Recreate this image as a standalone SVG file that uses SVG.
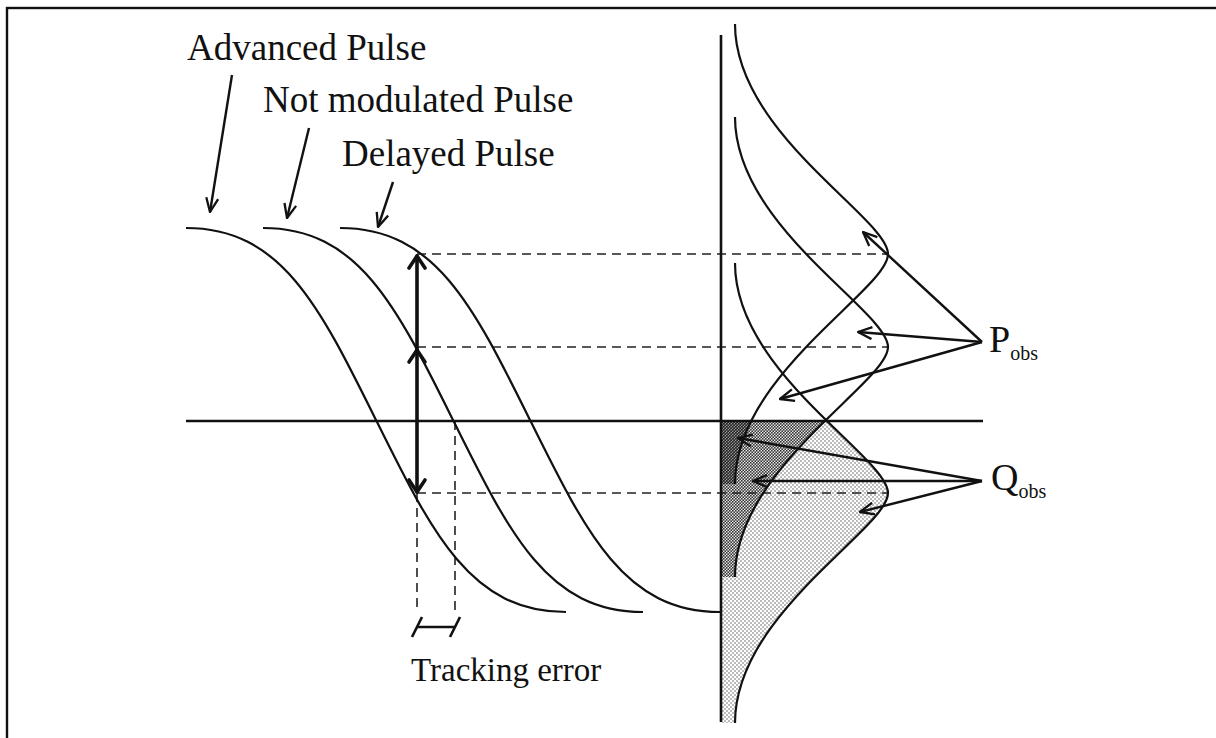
<svg xmlns="http://www.w3.org/2000/svg" width="1216" height="738" viewBox="0 0 1216 738">
  <style>
    .curve { fill: none; stroke: #111; stroke-width: 2.2; }
    .axis { fill: none; stroke: #111; stroke-width: 2.6; }
    .dash { fill: none; stroke: #222; stroke-width: 1.6; stroke-dasharray: 9 6; }
    .ptr { fill: none; stroke: #111; stroke-width: 2.4; marker-end: url(#head); }
    .bold { fill: none; stroke: #111; stroke-width: 3.6; stroke-linecap: round; stroke-linejoin: round; }
    .label { font-family: "Liberation Serif", "Times New Roman", serif; fill: #111; }
  </style>
  <defs>
    <marker id="head" viewBox="0 0 16 14" refX="15" refY="7" markerWidth="16" markerHeight="14" markerUnits="userSpaceOnUse" orient="auto">
      <path d="M1,1 L15,7 L1,13" fill="none" stroke="#111" stroke-width="2.3" stroke-linejoin="round"/>
    </marker>
    <pattern id="dotsLight" width="4" height="4" patternUnits="userSpaceOnUse">
      <rect width="4" height="4" fill="#fff"/>
      <circle cx="1" cy="1" r="0.75" fill="#555"/>
      <circle cx="3" cy="3" r="0.75" fill="#555"/>
    </pattern>
    <pattern id="dotsMid" width="3" height="3" patternUnits="userSpaceOnUse">
      <rect width="3" height="3" fill="#e4e4e4"/>
      <circle cx="0.75" cy="0.75" r="0.9" fill="#333"/>
      <circle cx="2.25" cy="2.25" r="0.9" fill="#333"/>
    </pattern>
    <pattern id="dotsDark" width="3" height="3" patternUnits="userSpaceOnUse">
      <rect width="3" height="3" fill="#999"/>
      <circle cx="0.75" cy="0.75" r="1.05" fill="#222"/>
      <circle cx="2.25" cy="2.25" r="1.05" fill="#222"/>
    </pattern>
    <clipPath id="below">
      <rect x="700" y="421" width="300" height="320"/>
    </clipPath>
  </defs>

  <!-- frame -->
  <rect x="7" y="8" width="1230" height="760" fill="none" stroke="#111" stroke-width="2.4"/>

  <!-- shaded areas under the distributions, below the threshold -->
  <g id="shading" clip-path="url(#below)">
    <path d="M721,263 L735,263 C735,372.5 888,457.1 888,493 S735,613.5 735,723 L721,723 Z" fill="url(#dotsLight)"/>
    <path d="M721,117 L735,117 C735,226.5 888,311.1 888,347 S735,467.5 735,577 L721,577 Z" fill="url(#dotsMid)"/>
    <path d="M721,24 L735,24 C735,133.5 888,218.1 888,254 S735,374.5 735,484 L721,484 Z" fill="url(#dotsDark)"/>
  </g>

  <!-- projection guides -->
  <g id="guides">
    <line class="dash" x1="417" y1="254" x2="888" y2="254"/>
    <line class="dash" x1="417" y1="347" x2="888" y2="347"/>
    <line class="dash" x1="417" y1="493" x2="888" y2="493"/>
    <line class="dash" x1="417" y1="493" x2="417" y2="612"/>
    <line class="dash" x1="455" y1="421" x2="455" y2="612"/>
  </g>

  <!-- axes -->
  <g id="axes">
    <line class="axis" x1="186" y1="421" x2="983" y2="421"/>
    <line class="axis" x1="721" y1="35" x2="721" y2="722" stroke-width="2.2"/>
  </g>

  <!-- pulse edges -->
  <g id="pulse-advanced">
    <path class="curve" d="M186,228 C281,228 319,305 376,420 S471,612 566,612"/>
  </g>
  <g id="pulse-nominal">
    <path class="curve" d="M263,228 C358,228 396,305 453,420 S548,612 643,612"/>
  </g>
  <g id="pulse-delayed">
    <path class="curve" d="M340,228 C435,228 473,305 530,420 S625,612 720,612"/>
  </g>

  <!-- observation distributions -->
  <g id="dist-delayed">
    <path class="curve" d="M735,24 C735,133.5 888,218.1 888,254 S735,374.5 735,484"/>
  </g>
  <g id="dist-nominal">
    <path class="curve" d="M735,117 C735,226.5 888,311.1 888,347 S735,467.5 735,577"/>
  </g>
  <g id="dist-advanced">
    <path class="curve" d="M735,263 C735,372.5 888,457.1 888,493 S735,613.5 735,723"/>
  </g>

  <!-- sampling amplitudes -->
  <g id="amplitude">
    <line class="bold" x1="417" y1="256" x2="417" y2="492"/>
    <polyline class="bold" points="409,268 417,256 425,268"/>
    <polyline class="bold" points="409,362 417,350 425,362"/>
    <polyline class="bold" points="409,480 417,492 425,480"/>
  </g>

  <!-- tracking error span -->
  <g id="tracking-error">
    <line x1="417" y1="627" x2="455" y2="627" stroke="#111" stroke-width="2.4"/>
    <line x1="412" y1="637" x2="422" y2="617" stroke="#111" stroke-width="2.6"/>
    <line x1="450" y1="637" x2="460" y2="617" stroke="#111" stroke-width="2.6"/>
    <text class="label" x="411" y="681" font-size="33">Tracking error</text>
  </g>

  <!-- labels -->
  <g id="label-advanced">
    <text class="label" x="187" y="60" font-size="37">Advanced Pulse</text>
  </g>
  <g id="label-nominal">
    <text class="label" x="263" y="112" font-size="37">Not modulated Pulse</text>
  </g>
  <g id="label-delayed">
    <text class="label" x="342" y="166" font-size="37">Delayed Pulse</text>
  </g>
  <g id="label-p">
    <text class="label" x="989" y="352" font-size="38">P<tspan font-size="20" dy="8">obs</tspan></text>
  </g>
  <g id="label-q">
    <text class="label" x="991" y="490" font-size="38">Q<tspan font-size="20" dy="8">obs</tspan></text>
  </g>

  <!-- pointers -->
  <g id="connectors">
    <line class="ptr" x1="232" y1="75" x2="210" y2="212"/>
    <line class="ptr" x1="309" y1="128" x2="287" y2="218"/>
    <line class="ptr" x1="393" y1="182" x2="378" y2="227"/>
    <line class="ptr" x1="982" y1="342" x2="863" y2="232"/>
    <line class="ptr" x1="982" y1="342" x2="858" y2="332"/>
    <line class="ptr" x1="982" y1="342" x2="780" y2="399"/>
    <line class="ptr" x1="982" y1="481" x2="738" y2="438"/>
    <line class="ptr" x1="982" y1="481" x2="753" y2="481"/>
    <line class="ptr" x1="982" y1="481" x2="860" y2="512"/>
  </g>
</svg>
